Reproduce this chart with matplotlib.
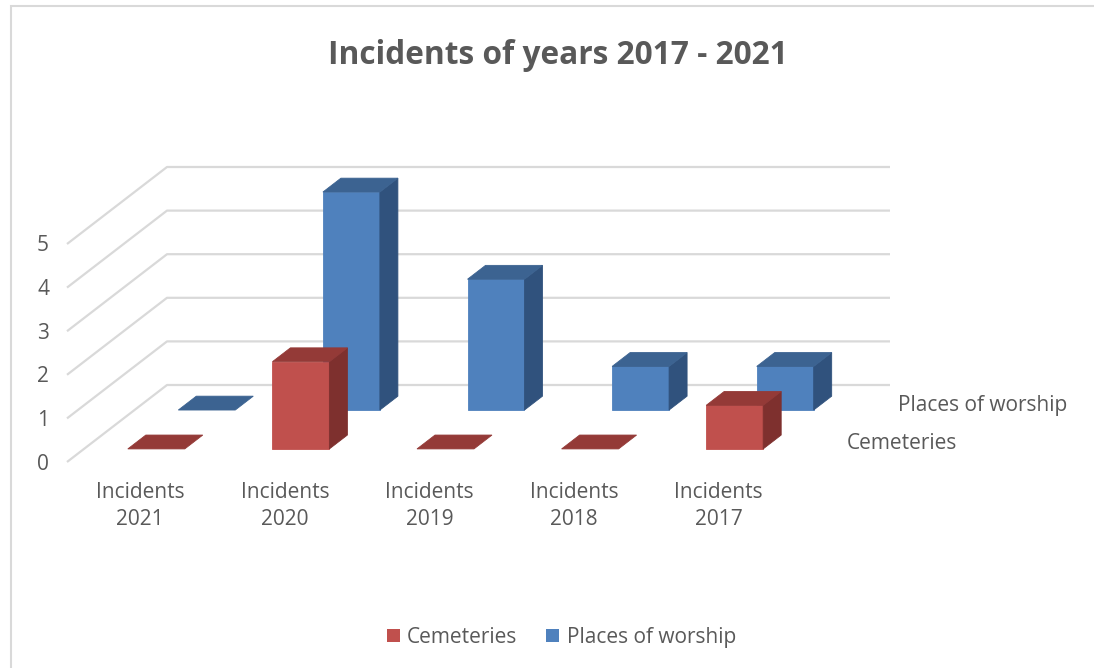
import matplotlib.pyplot as plt
from matplotlib.patches import Polygon, Rectangle, Patch
from matplotlib.transforms import offset_copy

categories = ["Incidents\n2021", "Incidents\n2020", "Incidents\n2019", "Incidents\n2018", "Incidents\n2017"]
series_names = ["Cemeteries", "Places of worship"]
cemeteries = [0, 2, 0, 0, 1]
places_of_worship = [0, 5, 3, 1, 1]
y_ticks = [0, 1, 2, 3, 4, 5]

# face colours: front, top, side
palette = {
    "Cemeteries": ("#C0504D", "#943A37", "#7E302E"),
    "Places of worship": ("#4F81BD", "#3C6391", "#30527D"),
}
text_color = "#595959"
grid_color = "#D9D9D9"
fs = 15

plt.rcParams["font.family"] = ["Open Sans", "DejaVu Sans"]

fig = plt.figure(figsize=(10.94, 6.68), dpi=100)
# axes box = front face of the floor, values 0..5
ax = fig.add_axes([67 / 1094, 1 - 462 / 668, 723 / 1094, 218 / 668])
ax.set_xlim(-0.5, len(categories) - 0.5)
ax.set_ylim(0, 5)
ax.axis("off")

# oblique depth offset for the full depth of the plot (data units)
DX = 100 / 144.6
DZ = 77 / 43.6


def proj(x, z, d):
    return (x + d * DX, z + d * DZ)


x_left, x_right = -0.5, len(categories) - 0.5

# back wall + side wall gridlines
for v in y_ticks:
    pts = [proj(x_left, v, 0), proj(x_left, v, 1), proj(x_right, v, 1)]
    ax.plot([p[0] for p in pts], [p[1] for p in pts], color=grid_color,
            lw=1.6, clip_on=False, zorder=1, solid_capstyle="butt")

bar_w = 0.394
bar_depth = 0.18
row_front = [0.17, 0.675]
data = [cemeteries, places_of_worship]

# back row first so the front row overlaps it
for s in reversed(range(len(series_names))):
    front_c, top_c, side_c = palette[series_names[s]]
    d0 = row_front[s]
    d1 = d0 + bar_depth
    for i, v in enumerate(data[s]):
        x0, x1 = i - bar_w / 2, i + bar_w / 2
        faces = []
        if v > 0:
            faces.append(([proj(x0, 0, d0), proj(x1, 0, d0), proj(x1, v, d0), proj(x0, v, d0)], front_c))
            faces.append(([proj(x1, 0, d0), proj(x1, 0, d1), proj(x1, v, d1), proj(x1, v, d0)], side_c))
        faces.append(([proj(x0, v, d0), proj(x1, v, d0), proj(x1, v, d1), proj(x0, v, d1)], top_c))
        for poly, c in faces:
            ax.add_patch(Polygon(poly, closed=True, facecolor=c, edgecolor=c,
                                 lw=0.6, clip_on=False, zorder=3 + (1 - s)))

# value axis labels
tick_tf = offset_copy(ax.transData, fig=fig, x=-18, y=-2, units="dots")
for v in y_ticks:
    ax.text(x_left, v, str(v), transform=tick_tf, ha="right", va="center",
            fontsize=fs, color=text_color)

# category labels under the floor
cat_tf = offset_copy(ax.transData, fig=fig, x=1, y=-20, units="dots")
for i, lab in enumerate(categories):
    ax.text(i, 0, lab, transform=cat_tf, ha="center", va="top",
            fontsize=fs, color=text_color, linespacing=1.38)

# series labels on the depth axis
row_tf = offset_copy(ax.transData, fig=fig, x=31, y=-2, units="dots")
for s, name in enumerate(series_names):
    px, pz = proj(x_right, 0, row_front[s] + bar_depth / 2)
    ax.text(px, pz, name, transform=row_tf, ha="left", va="center",
            fontsize=fs, color=text_color)

fig.text(0.5096, 1 - 55 / 668, "Incidents of years 2017 - 2021", ha="center",
         va="center", fontsize=22.8, fontweight="bold", color=text_color)

handles = [Patch(facecolor=palette[n][0], edgecolor="none") for n in series_names]
leg = fig.legend(handles, series_names, loc="center", bbox_to_anchor=(0.513, 0.046),
                 ncol=2, frameon=False, fontsize=fs, handlelength=0.62,
                 handleheight=0.62, handletextpad=0.35, columnspacing=1.4)
for t in leg.get_texts():
    t.set_color(text_color)

# chart area border
fig.add_artist(Rectangle((11 / 1094, -0.1), 1.2, 1 - 6 / 668 + 0.1,
                         transform=fig.transFigure, fill=False,
                         edgecolor=grid_color, lw=1.5))

fig.savefig("out.png", dpi=100)
